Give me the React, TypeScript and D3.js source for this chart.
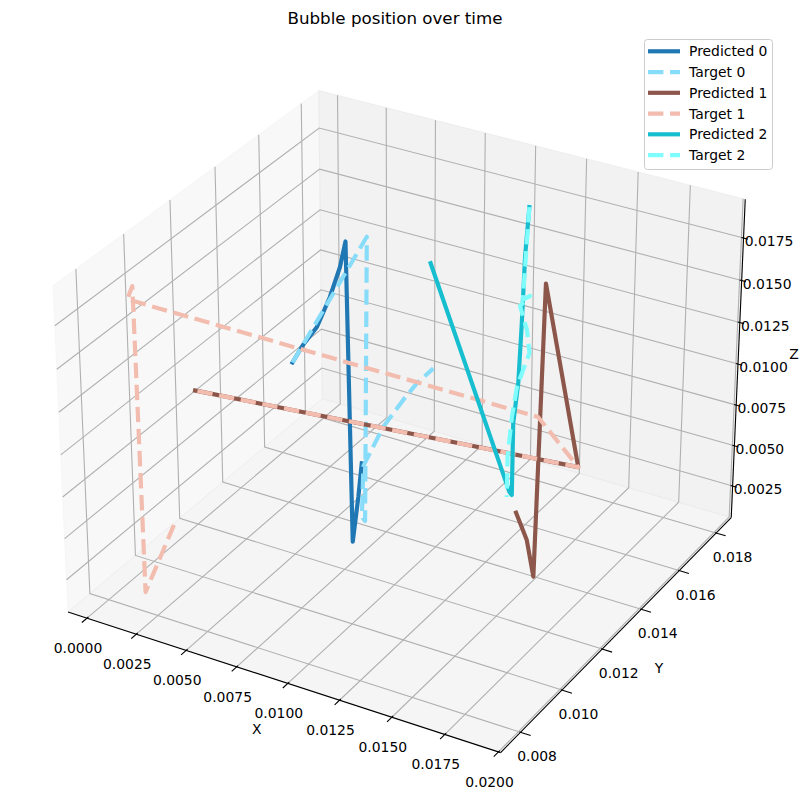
import React from 'react';
import * as d3 from 'd3';

// Axis limits and ticks
const xLim = [-0.00097, 0.0201];
const yLim = [0.00706, 0.01884];
const zLim = [0.00052, 0.01976];
const xTicks = [0, 0.0025, 0.005, 0.0075, 0.01, 0.0125, 0.015, 0.0175, 0.02];
const yTicks = [0.008, 0.01, 0.012, 0.014, 0.016, 0.018];
const zTicks = [0.0025, 0.005, 0.0075, 0.01, 0.0125, 0.015, 0.0175];

// Series data (metres)
const pred0X = [0.00401, 0.00455, 0.00526, 0.00592, 0.00643, 0.00671, 0.00696, 0.00726, 0.00744];
const pred0Y = [0.0129, 0.0129, 0.0129, 0.0129, 0.0129, 0.0129, 0.0129, 0.0129, 0.0129];
const pred0Z = [0.01089, 0.01212, 0.01343, 0.01542, 0.01734, 0.01891, 0.00098, 0.00388, 0.00599];

const targ0X = [0.00401, 0.00701, 0.00685, 0.00669, 0.00678, 0.00779, 0.00878, 0.00945, 0.01026];
const targ0Y = [0.0129, 0.0136, 0.0136, 0.0136, 0.0136, 0.0136, 0.0136, 0.0136, 0.0136];
const targ0Z = [0.01089, 0.01858, 0.00141, 0.00161, 0.00481, 0.00757, 0.00954, 0.01077, 0.01194];

const pred1X = [0.01435, 0.01489, 0.01524, 0.01559, 0.0191, 0.0001];
const pred1Y = [0.0136, 0.0136, 0.0136, 0.0136, 0.01164, 0.01194];
const pred1Z = [0.00472, 0.00325, 0.00113, 0.01868, 0.01141, 0.00887];

const targ1X = [0.00299, 0.00143, 0.00131, 0.00005, 0.019, 0.0191, 0.0001];
const targ1Y = [0.0084, 0.0084, 0.0084, 0.00921, 0.00974, 0.01164, 0.01194];
const targ1Z = [0.00575, 0.00107, 0.01914, 0.01713, 0.01635, 0.01141, 0.00887];

const pred2X = [0.00716, 0.0112, 0.01133, 0.01135, 0.01157, 0.0117, 0.01181, 0.01198];
const pred2Y = [0.0165, 0.0165, 0.0165, 0.0165, 0.0165, 0.0165, 0.0165, 0.0165];
const pred2Z = [0.01417, 0.00154, 0.00138, 0.00586, 0.00839, 0.01206, 0.01607, 0.01903];

const targ2X = [0.01198, 0.01173, 0.01208, 0.0116, 0.01196, 0.0121, 0.0118, 0.01151, 0.01128, 0.01109, 0.01108];
const targ2Y = [0.0165, 0.0165, 0.0165, 0.0165, 0.0165, 0.0165, 0.0165, 0.0165, 0.0165, 0.0165, 0.0165];
const targ2Z = [0.01903, 0.01347, 0.01383, 0.01307, 0.01175, 0.01041, 0.00928, 0.00814, 0.00622, 0.00367, 0.00116];

const seriesNames = ['Predicted 0', 'Target 0', 'Predicted 1', 'Target 1', 'Predicted 2', 'Target 2'];
const seriesColors = ['#1f77b4', '#87dcfa', '#8c564b', '#f2bcae', '#17becf', '#7ffcfc'];
const seriesDashed = [false, true, false, true, false, true];
const seriesX = [pred0X, targ0X, pred1X, targ1X, pred2X, targ2X];
const seriesY = [pred0Y, targ0Y, pred1Y, targ1Y, pred2Y, targ2Y];
const seriesZ = [pred0Z, targ0Z, pred1Z, targ1Z, pred2Z, targ2Z];

// 3D projection (matplotlib-like, elev=30, azim=-60)
const deg = Math.PI / 180;
const elev = 30 * deg, azim = -60 * deg;
const asp = [4, 4, 3];
const nrm = Math.hypot(...asp);
const box = asp.map(a => a * 1.8294640721620434 / nrm);
const Rc = box.map(b => b / 2);
const ps = [Math.cos(elev) * Math.cos(azim), Math.cos(elev) * Math.sin(azim), Math.sin(elev)];
const eye = Rc.map((r, i) => r + 10 * ps[i]);
const cross = (a: number[], b: number[]) => [a[1]*b[2]-a[2]*b[1], a[2]*b[0]-a[0]*b[2], a[0]*b[1]-a[1]*b[0]];
const dot = (a: number[], b: number[]) => a[0]*b[0]+a[1]*b[1]+a[2]*b[2];
const wv = ps;
let uv = cross([0, 0, 1], wv);
const un = Math.hypot(...uv);
uv = uv.map(c => c / un);
const vv = cross(wv, uv);
const sx = d3.scaleLinear().domain(xLim).range([0, box[0]]);
const sy = d3.scaleLinear().domain(yLim).range([0, box[1]]);
const sz = d3.scaleLinear().domain(zLim).range([0, box[2]]);
const S = 4338, CX = 405.5, CY = 406.3;

function project(x: number, y: number, z: number): [number, number] {
  const p = [sx(x), sy(y), sz(z)];
  const d = p.map((c, i) => c - eye[i]);
  const X = dot(uv, d), Y = dot(vv, d), Z = dot(wv, d);
  return [CX + S * X / (-Z), CY - S * Y / (-Z)];
}

const line = d3.line<[number, number]>();

export default function App() {
  const [x0, x1] = xLim, [y0, y1] = yLim, [z0, z1] = zLim;
  const pane = (pts: number[][]) => pts.map(p => project(p[0], p[1], p[2]).join(',')).join(' ');
  return (
    <svg width={803} height={812} style={{ position: 'absolute', left: 0, top: 0, background: '#fff' }} fontFamily="DejaVu Sans, sans-serif">
      <polygon points={pane([[x0,y0,z0],[x0,y1,z0],[x0,y1,z1],[x0,y0,z1]])} fill="#f2f2f2" fillOpacity={0.5} stroke="#f2f2f2" strokeOpacity={0.5} />
      <polygon points={pane([[x0,y1,z0],[x1,y1,z0],[x1,y1,z1],[x0,y1,z1]])} fill="#e6e6e6" fillOpacity={0.5} stroke="#e6e6e6" strokeOpacity={0.5} />
      <polygon points={pane([[x0,y0,z0],[x1,y0,z0],[x1,y1,z0],[x0,y1,z0]])} fill="#ececec" fillOpacity={0.5} stroke="#ececec" strokeOpacity={0.5} />
      {xTicks.map(t => <path key={'gx'+t} d={line([project(t,y0,z0), project(t,y1,z0), project(t,y1,z1)])!} fill="none" stroke="#b0b0b0" strokeWidth={1.1} />)}
      {yTicks.map(t => <path key={'gy'+t} d={line([project(x1,t,z0), project(x0,t,z0), project(x0,t,z1)])!} fill="none" stroke="#b0b0b0" strokeWidth={1.1} />)}
      {zTicks.map(t => <path key={'gz'+t} d={line([project(x0,y0,t), project(x0,y1,t), project(x1,y1,t)])!} fill="none" stroke="#b0b0b0" strokeWidth={1.1} />)}
      <path d={line([project(x0,y0,z0), project(x1,y0,z0)])!} stroke="#000" strokeWidth={1.1} />
      <path d={line([project(x1,y0,z0), project(x1,y1,z0)])!} stroke="#000" strokeWidth={1.1} />
      <path d={line([project(x1,y1,z0), project(x1,y1,z1)])!} stroke="#000" strokeWidth={1.1} />
      {xTicks.map(t => { const a = project(t, y0 - 0.00022, z0), b = project(t, y0 + 0.00006, z0); const c = project(t, y0, z0);
        return <g key={'tx'+t}><path d={line([a, b])!} stroke="#000" strokeWidth={1.1} /><text x={c[0]-9} y={c[1]+30} fontSize={13.9} textAnchor="middle" dominantBaseline="central">{d3.format('.4f')(t)}</text></g>; })}
      {yTicks.map(t => { const a = project(x1 + 0.00047, t, z0), b = project(x1 - 0.00005, t, z0); const c = project(x1, t, z0);
        return <g key={'ty'+t}><path d={line([a, b])!} stroke="#000" strokeWidth={1.1} /><text x={c[0]+16.5} y={c[1]+24} fontSize={13.9} textAnchor="middle" dominantBaseline="central">{d3.format('.3f')(t)}</text></g>; })}
      {zTicks.map(t => { const a = project(x1 + 0.0002, y1, t), b = project(x1 - 0.0001, y1, t); const c = project(x1, y1, t);
        return <g key={'tz'+t}><path d={line([a, b])!} stroke="#000" strokeWidth={1.1} /><text x={c[0]+25.5} y={c[1]+3} fontSize={13.9} textAnchor="middle" dominantBaseline="central">{d3.format('.4f')(t)}</text></g>; })}
      <text x={256.7} y={729.3} fontSize={13.9} textAnchor="middle" dominantBaseline="central">X</text>
      <text x={659} y={668} fontSize={13.9} textAnchor="middle" dominantBaseline="central">Y</text>
      <text x={794} y={354} fontSize={13.9} textAnchor="middle" dominantBaseline="central">Z</text>
      {seriesX.map((xs, i) => <path key={'s'+i} d={line(xs.map((x, j) => project(x, seriesY[i][j], seriesZ[i][j])))!} fill="none" stroke={seriesColors[i]} strokeWidth={4.17} strokeDasharray={seriesDashed[i] ? '15.4 6.67' : undefined} strokeLinejoin="round" strokeLinecap={seriesDashed[i] ? 'butt' : 'square'} />)}
      <text x={395} y={18} fontSize={16.7} textAnchor="middle" dominantBaseline="central">Bubble position over time</text>
      <rect x={644.5} y={39.5} width={128} height={130} rx={3} fill="#fff" fillOpacity={0.8} stroke="#cccccc" />
      {seriesNames.map((n, i) => { const yy = 51.3 + i * 20.75; return <g key={'l'+i}>
        <line x1={648} x2={680} y1={yy} y2={yy} stroke={seriesColors[i]} strokeWidth={4.17} strokeDasharray={seriesDashed[i] ? '15.4 6.67' : undefined} />
        <text x={689} y={yy} fontSize={13.9} dominantBaseline="central">{n}</text></g>; })}
    </svg>
  );
}
